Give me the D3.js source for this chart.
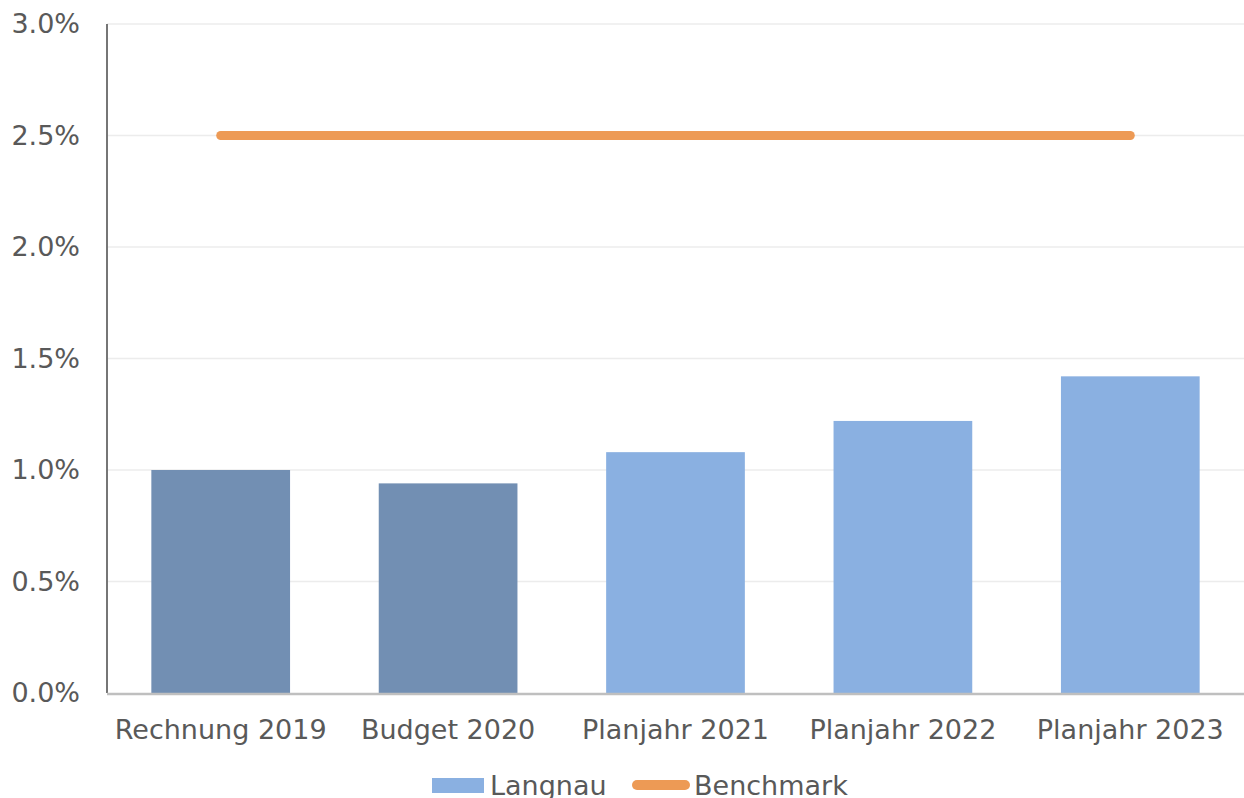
<!DOCTYPE html>
<html>
<head>
<meta charset="utf-8">
<script src="https://cdn.jsdelivr.net/npm/d3@7"></script>
<style>
  body { margin: 0; background: #fff; }
  text { font-family: "DejaVu Sans", Verdana, sans-serif; fill: #595959; font-size: 27px; }
</style>
</head>
<body>
<div id="chart"></div>
<script>
// data
var categories = ["Rechnung 2019", "Budget 2020", "Planjahr 2021", "Planjahr 2022", "Planjahr 2023"];
var langnau = [0.0100, 0.0094, 0.0108, 0.0122, 0.0142];
var benchmark = [0.025, 0.025, 0.025, 0.025, 0.025];
var yTicks = [0, 0.005, 0.01, 0.015, 0.02, 0.025, 0.03];
var actualCount = 2; // first two bars are actual values (darker)

var margin = {top: 24, right: 0, bottom: 105, left: 107},
    width = 1244 - margin.left - margin.right,
    height = 798 - margin.top - margin.bottom;

var svg = d3.select("#chart")
    .append("svg")
    .attr("width", 1244)
    .attr("height", 798)
    .append("g")
    .attr("transform", "translate(" + margin.left + "," + margin.top + ")");

var x = d3.scaleBand()
    .domain(categories)
    .range([0, width])
    .paddingInner(0.39)
    .paddingOuter(0.195);

var y = d3.scaleLinear()
    .domain([0, 0.03])
    .range([height, 0]);

// gridlines
svg.selectAll(".grid")
    .data(yTicks.slice(1))
    .enter()
    .append("line")
    .attr("x1", 0)
    .attr("x2", width)
    .attr("y1", function (d) { return y(d); })
    .attr("y2", function (d) { return y(d); })
    .style("stroke", "#ececec")
    .style("stroke-width", 1.5);

// y axis labels
svg.selectAll(".ylab")
    .data(yTicks)
    .enter()
    .append("text")
    .attr("x", -27)
    .attr("y", function (d) { return y(d) + 9; })
    .attr("text-anchor", "end")
    .text(function (d) { return d3.format(".1%")(d); });

// bars
svg.selectAll(".bar")
    .data(langnau)
    .enter()
    .append("rect")
    .attr("x", function (d, i) { return x(categories[i]); })
    .attr("y", function (d) { return y(d); })
    .attr("width", x.bandwidth())
    .attr("height", function (d) { return height - y(d); })
    .style("fill", function (d, i) { return i < actualCount ? "#728fb3" : "#8ab0e1"; });

// axes lines
svg.append("line")
    .attr("x1", 0).attr("x2", 0)
    .attr("y1", 0).attr("y2", height)
    .style("stroke", "#767676")
    .style("stroke-width", 2);

svg.append("line")
    .attr("x1", 0).attr("x2", width)
    .attr("y1", height + 1).attr("y2", height + 1)
    .style("stroke", "#bfbfbf")
    .style("stroke-width", 2.5);

// benchmark line
var line = d3.line()
    .x(function (d, i) { return x(categories[i]) + x.bandwidth() / 2; })
    .y(function (d) { return y(d); });

svg.append("path")
    .datum(benchmark)
    .attr("d", line)
    .style("fill", "none")
    .style("stroke", "#ed9a55")
    .style("stroke-width", 9)
    .style("stroke-linecap", "round");

// x labels
svg.selectAll(".xlab")
    .data(categories)
    .enter()
    .append("text")
    .attr("x", function (d) { return x(d) + x.bandwidth() / 2; })
    .attr("y", height + 46)
    .attr("text-anchor", "middle")
    .text(function (d) { return d; });

// legend
var legend = svg.append("g")
    .attr("transform", "translate(0," + (height + 92) + ")");

legend.append("rect")
    .attr("x", 325)
    .attr("y", -7)
    .attr("width", 52)
    .attr("height", 15)
    .style("fill", "#8ab0e1");

legend.append("text")
    .attr("x", 383)
    .attr("y", 10)
    .text("Langnau");

legend.append("line")
    .attr("x1", 530).attr("x2", 578)
    .attr("y1", 0).attr("y2", 0)
    .style("stroke", "#ed9a55")
    .style("stroke-width", 10)
    .style("stroke-linecap", "round");

legend.append("text")
    .attr("x", 587)
    .attr("y", 10)
    .text("Benchmark");
</script>
</body>
</html>
